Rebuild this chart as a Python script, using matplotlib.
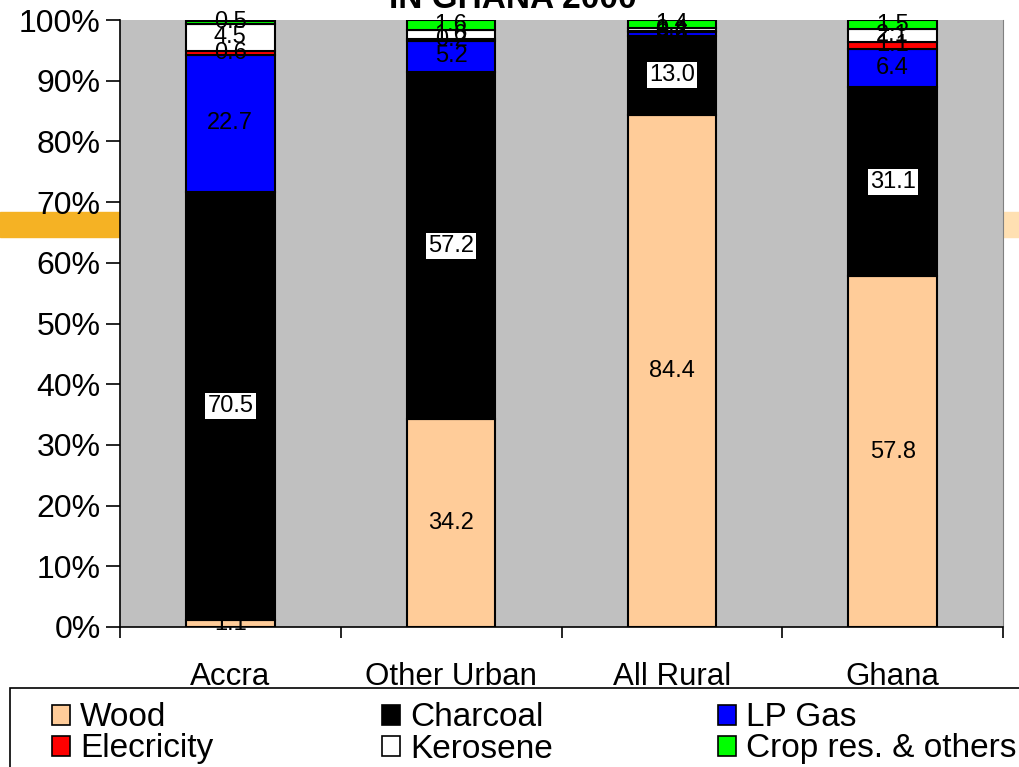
import matplotlib
matplotlib.use("Agg")
import matplotlib.pyplot as plt
from matplotlib.patches import Patch, Rectangle
import numpy as np

plt.rcParams['font.family'] = ['Liberation Sans', 'DejaVu Sans']

categories = ["Accra", "Other Urban", "All Rural", "Ghana"]
fuels = ["Wood", "Charcoal", "LP Gas", "Elecricity", "Kerosene", "Crop res. & others"]
wood = [1.1, 34.2, 84.4, 57.8]
charcoal = [70.5, 57.2, 13.0, 31.1]
lp_gas = [22.7, 5.2, 0.6, 6.4]
electricity = [0.6, 0.2, 0.2, 1.1]
kerosene = [4.5, 1.6, 0.4, 2.1]
crop_res = [0.5, 1.6, 1.4, 1.5]
y_ticks = [0, 10, 20, 30, 40, 50, 60, 70, 80, 90, 100]

series = [wood, charcoal, lp_gas, electricity, kerosene, crop_res]
colors = ["#FFCC99", "#000000", "#0000FF", "#FF0000", "#FFFFFF", "#00FF00"]

W, H = 1019, 767
fig = plt.figure(figsize=(W / 100, H / 100), dpi=100)

# slide decoration band behind the chart
fig.patches.append(Rectangle((0, 1 - 237 / H), 119 / W, 25 / H,
                             transform=fig.transFigure, color="#F5B224", zorder=-2))
fig.patches.append(Rectangle((1003 / W, 1 - 237 / H), 16 / W, 25 / H,
                             transform=fig.transFigure, color="#FFE0B2", zorder=-2))

# legend box, running off the right and bottom edges
fig.patches.append(Rectangle((10 / W, -0.05), 1.0, (767 - 688) / H + 0.05,
                             transform=fig.transFigure, facecolor="white",
                             edgecolor="black", linewidth=1.2, zorder=-1))

ax = fig.add_axes([120 / W, (H - 627) / H, (1003 - 120) / W, (627 - 20) / H])
ax.set_facecolor("#C0C0C0")

x = np.arange(len(categories))
bottom = np.zeros(len(categories))
for vals, col in zip(series, colors):
    vals = np.array(vals)
    ax.bar(x, vals, width=0.4, bottom=bottom, color=col, edgecolor="black",
           linewidth=1.5, zorder=2)
    for xi, b, v in zip(x, bottom, vals):
        box = None
        if col == "#000000":
            box = dict(facecolor="white", edgecolor="none", pad=1.5)
        ax.text(xi, b + v / 2, f"{v:.1f}", ha="center", va="center",
                fontsize=17, color="black", bbox=box, zorder=3)
    bottom += vals

ax.set_xlim(-0.5, len(categories) - 0.5)
ax.set_ylim(0, 100)
ax.set_yticks(y_ticks)
ax.set_yticklabels([f"{t}%" for t in y_ticks], fontsize=23)
ax.tick_params(axis="y", direction="out", length=10, width=1.2, pad=4)

ax.set_xticks(np.arange(len(categories) + 1) - 0.5)
ax.set_xticklabels([])
ax.tick_params(axis="x", which="major", direction="out", length=8, width=1.2)
ax.set_xticks(x, minor=True)
ax.set_xticklabels(categories, minor=True, fontsize=22.5)
ax.tick_params(axis="x", which="minor", length=0, pad=25)

ax.spines["top"].set_visible(False)
ax.spines["right"].set_color("#808080")
ax.spines["left"].set_linewidth(1.2)
ax.spines["bottom"].set_linewidth(1.2)

fig.text(513 / W, 1 - 8 / H, "IN GHANA 2000", ha="center", va="baseline",
         fontsize=24, fontweight="bold")

col_x = [52, 382, 718]
row_y = [718, 749]
for i, (name, col) in enumerate(zip(fuels, colors)):
    r, c = divmod(i, 3)
    h = Patch(facecolor=col, edgecolor="black", linewidth=1.2)
    leg = fig.legend([h], [name], loc="center left",
                     bbox_to_anchor=(col_x[c] / W, 1 - row_y[r] / H),
                     fontsize=24, frameon=False, borderpad=0, borderaxespad=0,
                     handlelength=0.55, handleheight=0.55, handletextpad=0.3)
    leg.set_zorder(2)

fig.savefig("out.png", dpi=100)
